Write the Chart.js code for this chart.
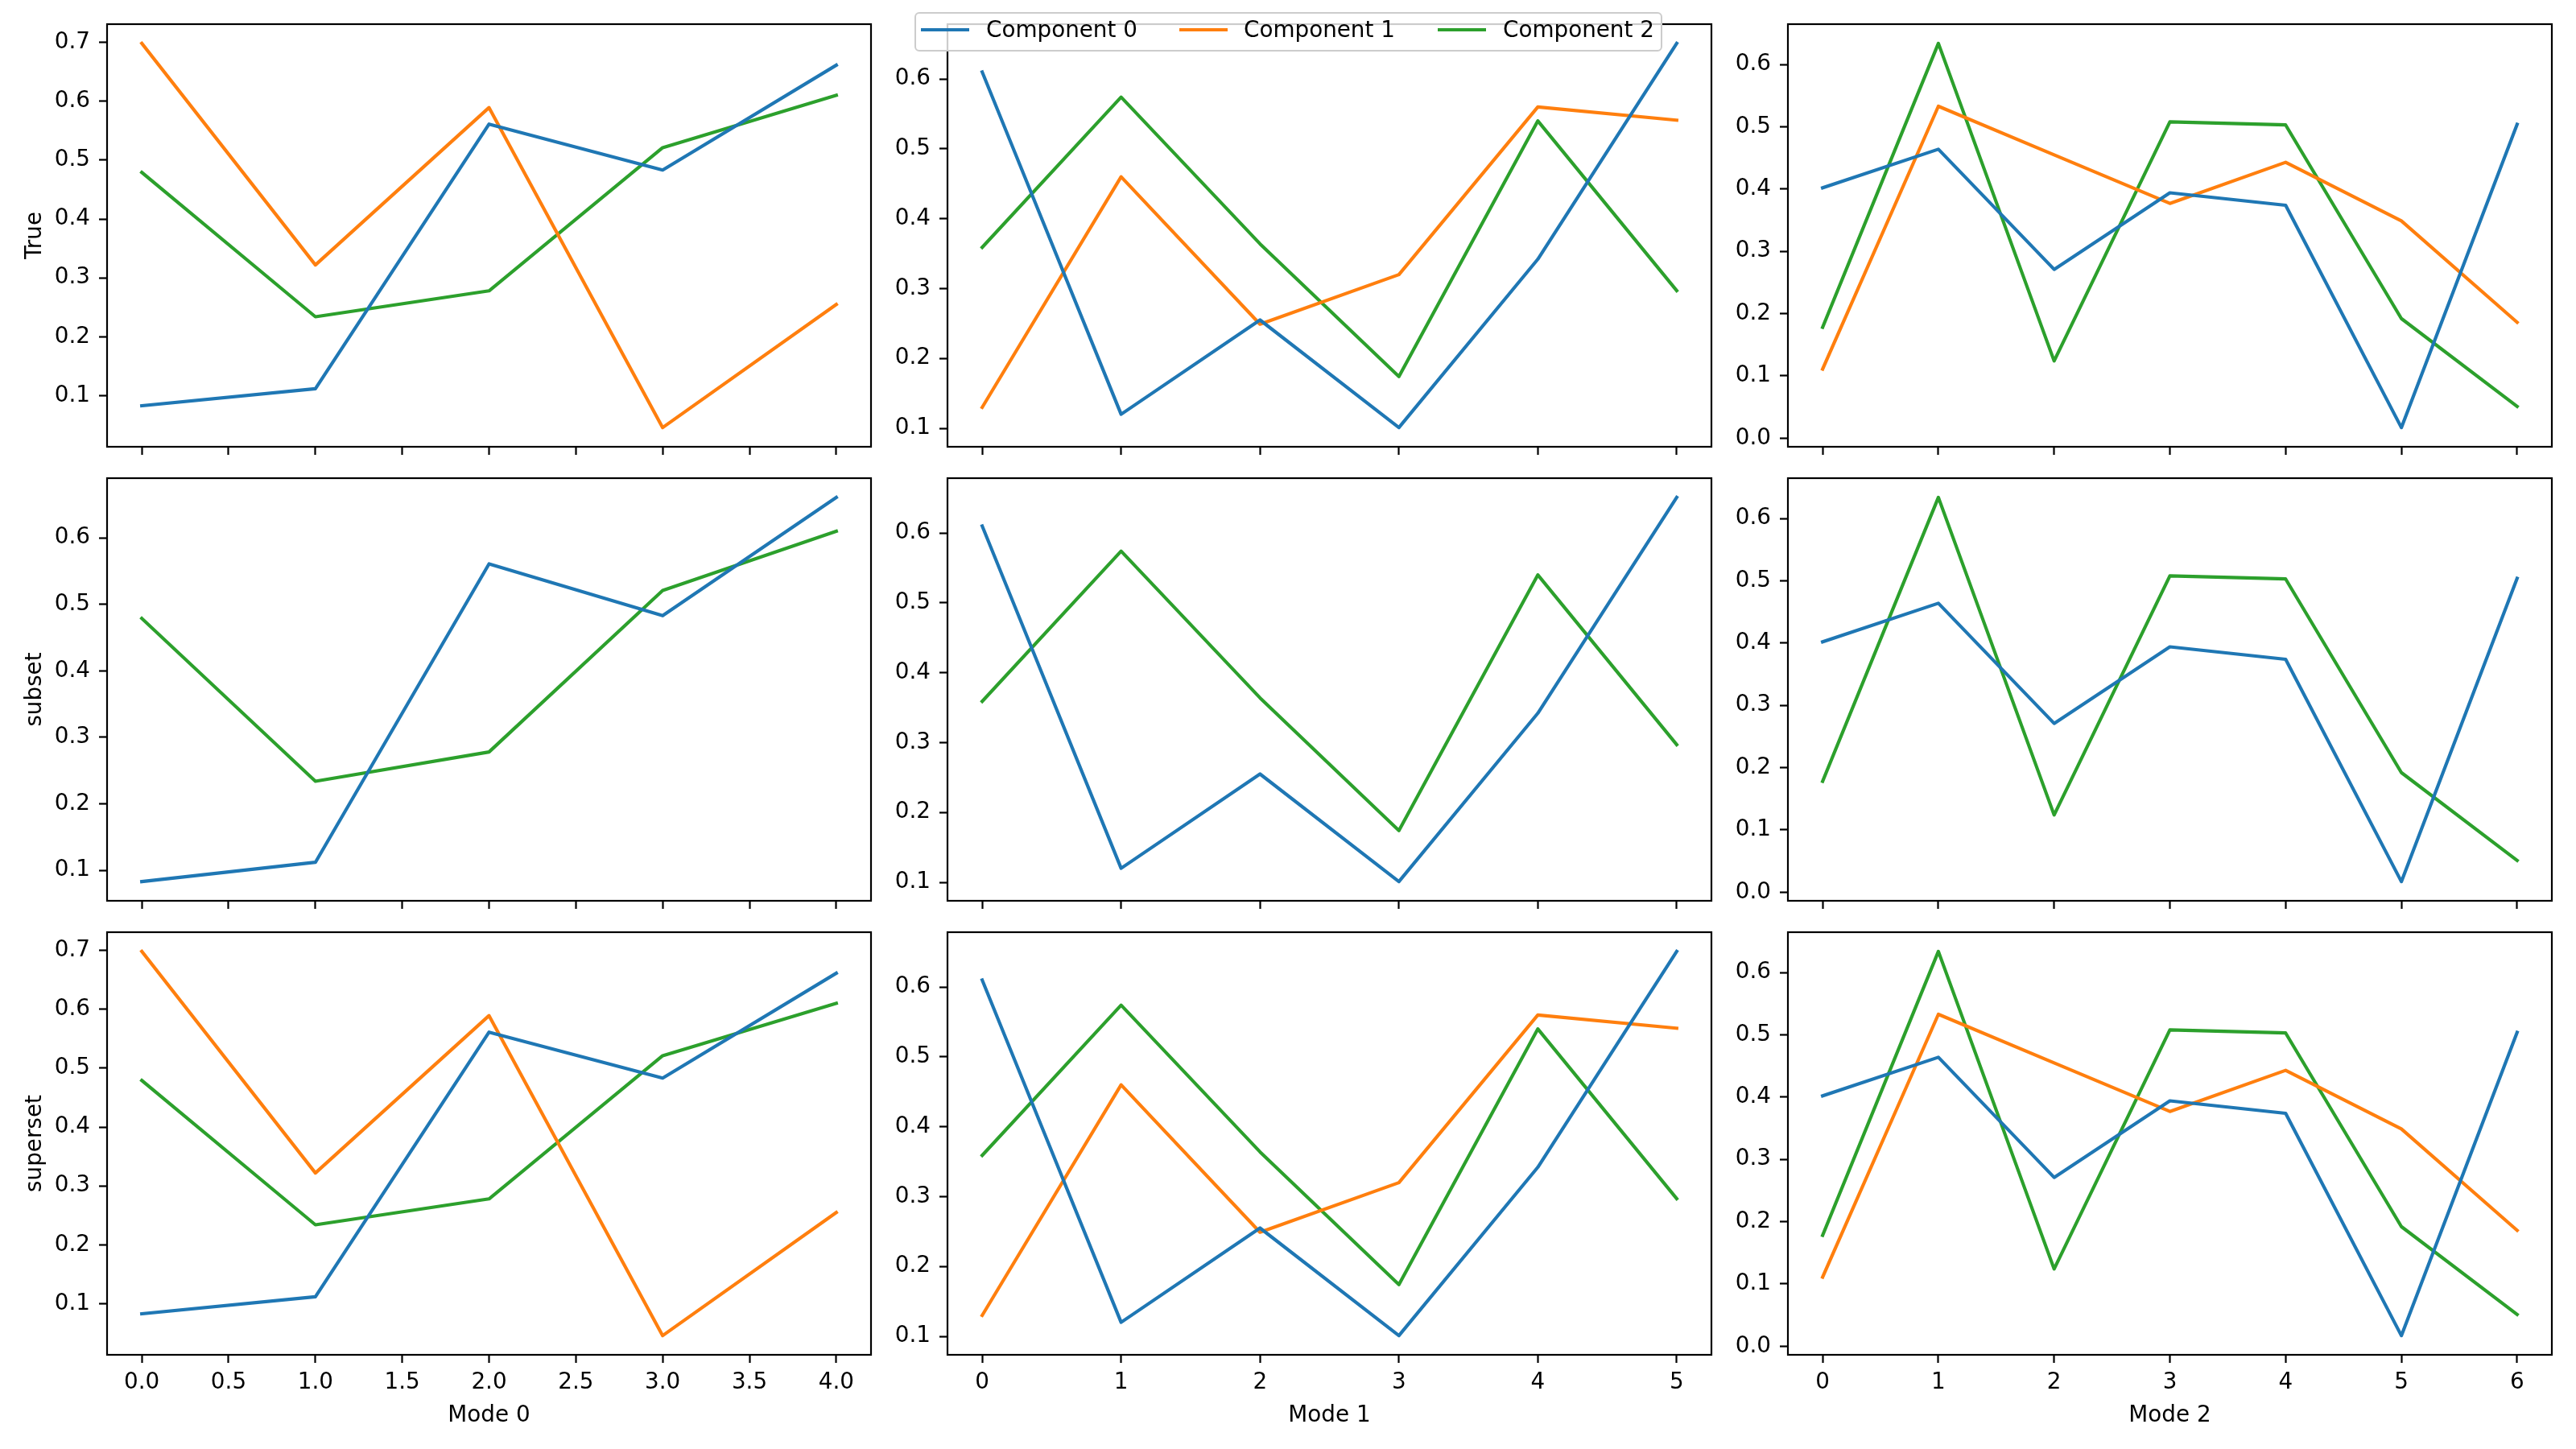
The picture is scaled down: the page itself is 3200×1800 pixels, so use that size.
<!DOCTYPE html>
<html>
<head>
<meta charset="utf-8">
<script src="https://cdn.jsdelivr.net/npm/chart.js@4.4.1/dist/chart.umd.min.js"></script>
<style>
html,body{margin:0;padding:0;background:#fff;}
#wrap{position:relative;width:3200px;height:1800px;overflow:hidden;background:#fff;}
#wrap canvas{position:absolute;}
#legend{position:absolute;left:1136px;top:15px;width:929px;height:49px;box-sizing:border-box;border:2.2px solid #cccccc;border-radius:6px;background:rgba(255,255,255,0.8);z-index:5;}
#legend .h{position:absolute;height:4.2px;width:60px;}
#legend .t{position:absolute;font-family:'DejaVu Sans';font-size:27.8px;line-height:33px;color:#000;white-space:nowrap;}
</style>
</head>
<body>
<div id="wrap"><div id="legend"></div></div>
<script>
// ---------------- data ----------------
const componentNames = ['Component 0', 'Component 1', 'Component 2'];
const rowNames = ['True', 'subset', 'superset'];
const modeNames = ['Mode 0', 'Mode 1', 'Mode 2'];
const colors = ['#1f77b4', '#ff7f0e', '#2ca02c'];

// Mode 0 (5 positions)
const mode0Comp0 = [0.083, 0.112, 0.561, 0.483, 0.661];
const mode0Comp1 = [0.698, 0.322, 0.589, 0.046, 0.255];
const mode0Comp2 = [0.479, 0.234, 0.278, 0.521, 0.610];
// Mode 1 (6 positions)
const mode1Comp0 = [0.610, 0.120, 0.255, 0.101, 0.342, 0.651];
const mode1Comp1 = [0.130, 0.460, 0.249, 0.320, 0.560, 0.541];
const mode1Comp2 = [0.359, 0.574, 0.364, 0.174, 0.540, 0.297];
// Mode 2 (7 positions)
const mode2Comp0 = [0.402, 0.464, 0.271, 0.394, 0.374, 0.017, 0.504];
const mode2Comp1 = [0.111, 0.533, 0.455, 0.377, 0.443, 0.349, 0.186];
const mode2Comp2 = [0.178, 0.634, 0.124, 0.508, 0.503, 0.192, 0.051];

// which components are drawn in each row
const rowComponents = [[0, 1, 2], [0, 2], [0, 1, 2]];

// tick values
const mode0Ticks = [0, 0.5, 1, 1.5, 2, 2.5, 3, 3.5, 4];
const mode1Ticks = [0, 1, 2, 3, 4, 5];
const mode2Ticks = [0, 1, 2, 3, 4, 5, 6];
const yTicksMode0Full = [0.1, 0.2, 0.3, 0.4, 0.5, 0.6, 0.7];
const yTicksMode0Sub = [0.1, 0.2, 0.3, 0.4, 0.5, 0.6];
const yTicksMode1 = [0.1, 0.2, 0.3, 0.4, 0.5, 0.6];
const yTicksMode2 = [0.0, 0.1, 0.2, 0.3, 0.4, 0.5, 0.6];

// ---------------- assembly ----------------
const modeData = [
  [mode0Comp0, mode0Comp1, mode0Comp2],
  [mode1Comp0, mode1Comp1, mode1Comp2],
  [mode2Comp0, mode2Comp1, mode2Comp2]
];
const xTicks = [mode0Ticks, mode1Ticks, mode2Ticks];
const yTicks = [
  [yTicksMode0Full, yTicksMode1, yTicksMode2],
  [yTicksMode0Sub, yTicksMode1, yTicksMode2],
  [yTicksMode0Full, yTicksMode1, yTicksMode2]
];
const xFormat = [v => v.toFixed(1), v => String(Math.round(v)), v => String(Math.round(v))];

// ---------------- layout ----------------
const FONT = 'DejaVu Sans';
const FS = 27.8;
const panelLefts = [133, 1177, 2221];
const panelTops = [30, 594, 1158];
const panelW = 949, panelH = 525;
const yAxisW = [133, 95, 95];
const xAxisH = [15, 15, 117];
const padT = 10, padR = 12;

const framePlugin = {
  id: 'frame',
  afterDatasetsDraw(chart) {
    const {ctx, chartArea: a} = chart;
    ctx.save();
    ctx.strokeStyle = '#000';
    ctx.lineWidth = 2.2;
    ctx.strokeRect(a.left, a.top, a.right - a.left, a.bottom - a.top);
    ctx.restore();
  }
};

const wrap = document.getElementById('wrap');

for (let r = 0; r < 3; r++) {
  for (let c = 0; c < 3; c++) {
    const comps = rowComponents[r];
    const series = modeData[c];
    const n = series[0].length;
    let lo = Infinity, hi = -Infinity;
    comps.forEach(k => series[k].forEach(v => { lo = Math.min(lo, v); hi = Math.max(hi, v); }));
    const my = 0.05 * (hi - lo);
    const mx = 0.05 * (n - 1);

    const cw = yAxisW[c] + panelW + padR;
    const ch = padT + panelH + xAxisH[r];
    const canvas = document.createElement('canvas');
    canvas.width = cw; canvas.height = ch;
    canvas.style.width = cw + 'px'; canvas.style.height = ch + 'px';
    canvas.style.left = (panelLefts[c] - yAxisW[c]) + 'px';
    canvas.style.top = (panelTops[r] - padT) + 'px';
    wrap.appendChild(canvas);

    const datasets = comps.map(k => ({
      label: componentNames[k],
      data: series[k].map((v, i) => ({x: i, y: v})),
      borderColor: colors[k],
      backgroundColor: colors[k],
      borderWidth: 4.17,
      pointRadius: 0,
      tension: 0,
      fill: false,
      borderJoinStyle: 'round',
      borderCapStyle: 'square'
    }));

    const xt = xTicks[c], yt = yTicks[r][c];
    const fmtX = xFormat[c];
    const yW = yAxisW[c], xH = xAxisH[r];

    new Chart(canvas, {
      type: 'line',
      data: {datasets},
      options: {
        responsive: false,
        animation: false,
        devicePixelRatio: 1,
        layout: {padding: {top: padT, right: padR, left: 0, bottom: 0}},
        plugins: {legend: {display: false}, tooltip: {enabled: false}},
        scales: {
          x: {
            type: 'linear',
            min: -mx,
            max: (n - 1) + mx,
            afterBuildTicks: s => { s.ticks = xt.map(v => ({value: v})); },
            afterFit: s => { s.height = xH; s.paddingLeft = 0; s.paddingRight = 0; },
            ticks: {
              display: r === 2,
              color: '#000',
              font: {family: FONT, size: FS},
              padding: 8,
              maxRotation: 0,
              autoSkip: false,
              callback: v => fmtX(v)
            },
            grid: {display: true, drawOnChartArea: false, drawTicks: true, tickLength: 10, tickWidth: 2.2, tickColor: '#000'},
            border: {display: false},
            title: {
              display: r === 2,
              text: modeNames[c],
              color: '#000',
              font: {family: FONT, size: FS},
              padding: {top: 0, bottom: 25}
            }
          },
          y: {
            type: 'linear',
            min: lo - my,
            max: hi + my,
            afterBuildTicks: s => { s.ticks = yt.map(v => ({value: v})); },
            afterFit: s => { s.width = yW; s.paddingTop = 0; s.paddingBottom = 0; },
            ticks: {
              color: '#000',
              font: {family: FONT, size: FS},
              padding: 11,
              autoSkip: false,
              callback: v => v.toFixed(1)
            },
            grid: {display: true, drawOnChartArea: false, drawTicks: true, tickLength: 10, tickWidth: 2.2, tickColor: '#000'},
            border: {display: false},
            title: {
              display: c === 0,
              text: rowNames[r],
              color: '#000',
              font: {family: FONT, size: FS},
              padding: {top: 27, bottom: 0}
            }
          }
        }
      },
      plugins: [framePlugin]
    });
  }
}

// ---------------- legend ----------------
const legend = document.getElementById('legend');
const handleLeft = [6, 327, 648];
const textLeft = [87, 407, 729];
componentNames.forEach((name, k) => {
  const h = document.createElement('div');
  h.className = 'h';
  h.style.left = handleLeft[k] + 'px';
  h.style.top = '18px';
  h.style.background = colors[k];
  legend.appendChild(h);
  const t = document.createElement('div');
  t.className = 't';
  t.style.left = textLeft[k] + 'px';
  t.style.top = '3px';
  t.textContent = name;
  legend.appendChild(t);
});
</script>
</body>
</html>
